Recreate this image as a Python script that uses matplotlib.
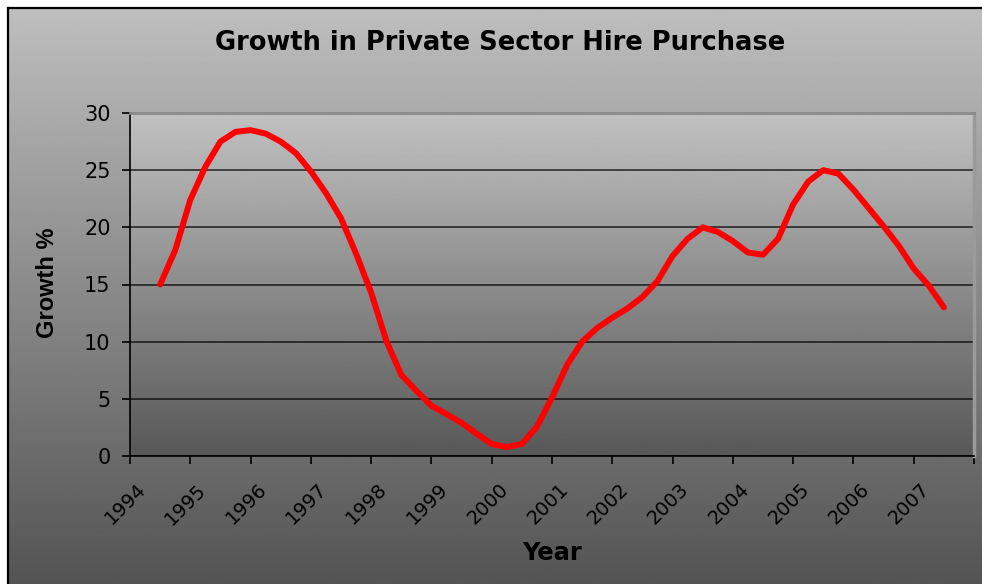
import numpy as np
import matplotlib.pyplot as plt

plt.rcParams['font.family'] = ['DejaVu Sans']

years = [str(y) for y in range(1994, 2008)]
# quarterly growth, %
growth = [15.0, 18.0, 22.4, 25.3, 27.5, 28.35, 28.5, 28.2, 27.5, 26.5,
          24.9, 23.0, 20.8, 17.7, 14.3, 10.1, 7.1, 5.7, 4.4, 3.66,
          2.9, 1.95, 1.05, 0.78, 1.05, 2.56, 5.1, 7.96, 10.0, 11.2,
          12.1, 12.9, 13.9, 15.3, 17.5, 19.0, 20.0, 19.6, 18.8, 17.8,
          17.6, 19.0, 22.0, 24.0, 25.0, 24.7, 23.3, 21.7, 20.1, 18.4,
          16.4, 14.9, 13.0]
yticks = [0, 5, 10, 15, 20, 25, 30]

W, H = 982, 584
fig = plt.figure(figsize=(W / 100, H / 100), dpi=100)
fig.patch.set_facecolor('white')

# chart area with vertical grey gradient and black frame
bg = fig.add_axes([8 / W, 0, 1 - 8 / W, 1 - 8 / H])
grad = np.linspace(190, 84, 256).reshape(-1, 1)
bg.imshow(grad, cmap='gray', vmin=0, vmax=255, aspect='auto', extent=[0, 1, 0, 1])
bg.set_xticks([])
bg.set_yticks([])
for side in ['right', 'bottom']:
    bg.spines[side].set_visible(False)
for side in ['left', 'top']:
    bg.spines[side].set_linewidth(1.6)
    bg.spines[side].set_color('black')

ax = fig.add_axes([130 / W, (H - 456) / H, 844 / W, 343 / H])
pgrad = np.linspace(193, 88, 256).reshape(-1, 1)
ax.imshow(pgrad, cmap='gray', vmin=0, vmax=255, aspect='auto',
          extent=[0, len(years), 0, 30], zorder=0)

x = 0.5 + np.arange(len(growth)) / 4
ax.plot(x, growth, color='#ff0000', lw=4.3, solid_joinstyle='round',
        solid_capstyle='round', zorder=3)

ax.set_xlim(0, len(years))
ax.set_ylim(0, 30)
ax.set_yticks(yticks)
ax.set_yticklabels([str(v) for v in yticks], fontsize=15)

# tick marks on category boundaries, year labels slightly to the right
ax.set_xticks(np.arange(len(years) + 1))
ax.set_xticklabels([])
ax.set_xticks(np.arange(len(years)) + 0.22, minor=True)
ax.set_xticklabels(years, minor=True, fontsize=14, rotation=45, ha='right',
                   va='center', rotation_mode='anchor')
ax.tick_params(axis='x', which='minor', length=0, pad=22)

ax.tick_params(axis='both', which='major', direction='out', length=6,
               width=1.2, color='black')
ax.tick_params(axis='y', pad=8)
ax.yaxis.grid(True, color='black', alpha=0.75, lw=1.2)
ax.set_axisbelow('line')

ax.spines['left'].set_color('black')
ax.spines['bottom'].set_color('black')
ax.spines['left'].set_linewidth(1.2)
ax.spines['bottom'].set_linewidth(1.2)
ax.spines['top'].set_color('#8a8a8a')
ax.spines['right'].set_color('#9a9a9a')
ax.spines['top'].set_linewidth(2)
ax.spines['right'].set_linewidth(2.5)

fig.text(500 / W, 1 - 43 / H, 'Growth in Private Sector Hire Purchase',
         fontsize=18.5, fontweight='bold', ha='center', va='center')
fig.text(48 / W, 1 - 283 / H, 'Growth %', fontsize=17, fontweight='bold',
         family='Liberation Sans', rotation=90, ha='center', va='center')
fig.text(552 / W, 1 - 553 / H, 'Year', fontsize=17.5, fontweight='bold',
         ha='center', va='center')

fig.savefig('out.png', dpi=100)
